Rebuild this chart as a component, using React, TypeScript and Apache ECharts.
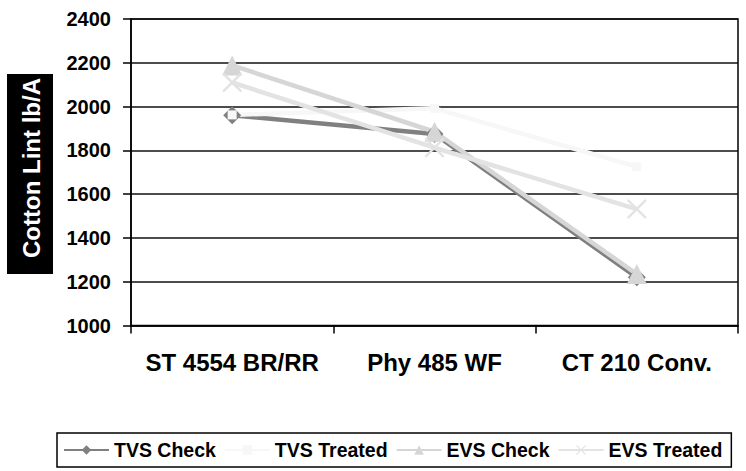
import React, { useEffect, useRef } from "react";
import * as echarts from "echarts";

const categories = ["ST 4554 BR/RR", "Phy 485 WF", "CT 210 Conv."];
const tvsCheck = [1960, 1875, 1220];
const tvsTreated = [1962, 1992, 1725];
const evsCheck = [2188, 1885, 1235];
const evsTreated = [2110, 1812, 1532];
const yTicks = { min: 1000, max: 2400, interval: 200 };
const yTitle = "Cotton Lint lb/A";

const FONT = "'Liberation Sans', Arial, sans-serif";
const X_SYMBOL =
  "path://M0,0L1.8,0L10,8.2L18.2,0L20,0L20,1.8L11.8,10L20,18.2L20,20L18.2,20L10,11.8L1.8,20L0,20L0,18.2L8.2,10L0,1.8Z";

export default function App() {
  const ref = useRef<HTMLDivElement>(null);
  useEffect(() => {
    if (!ref.current) return;
    const chart = echarts.init(ref.current, null, { renderer: "svg" });
    const mk = (name: string, data: number[], color: string, symbol: string, size: number) => ({
      name,
      type: "line",
      data,
      symbol,
      symbolSize: size,
      lineStyle: { color, width: 4.5 },
      itemStyle: { color },
      emphasis: { disabled: true },
    });
    chart.setOption({
      animation: false,
      grid: {
        left: 131,
        right: 8,
        top: 19,
        bottom: 471 - 325.5,
        show: true,
        borderColor: "#000",
        borderWidth: 1.5,
        backgroundColor: "transparent",
      },
      xAxis: {
        type: "category",
        data: categories,
        boundaryGap: true,
        axisLine: { lineStyle: { color: "#000", width: 1.5 } },
        axisTick: { show: true, length: 8, lineStyle: { color: "#000", width: 1.5 } },
        axisLabel: {
          color: "#000",
          fontWeight: "bold",
          fontSize: 24,
          fontFamily: FONT,
          margin: 25,
          interval: 0,
        },
        splitLine: { show: false },
      },
      yAxis: {
        type: "value",
        min: yTicks.min,
        max: yTicks.max,
        interval: yTicks.interval,
        axisLine: { show: true, lineStyle: { color: "#000", width: 1.5 } },
        axisTick: { show: true, length: 8, lineStyle: { color: "#000", width: 1.5 } },
        axisLabel: {
          color: "#000",
          fontWeight: "bold",
          fontSize: 20,
          fontFamily: FONT,
          margin: 20,
          formatter: (v: number) => String(v),
        },
        splitLine: { show: true, lineStyle: { color: "#111", width: 1.5 } },
      },
      legend: {
        left: 57,
        top: 433,
        orient: "horizontal",
        padding: [7, 9, 7, 6],
        itemGap: 8,
        itemWidth: 45,
        itemHeight: 12,
        borderColor: "#000",
        borderWidth: 1.5,
        borderRadius: 0,
        textStyle: { color: "#000", fontWeight: "bold", fontSize: 19.5, fontFamily: FONT },
        data: ["TVS Check", "TVS Treated", "EVS Check", "EVS Treated"],
      },
      graphic: [
        {
          type: "rect",
          shape: { x: 7, y: 74, width: 46, height: 200 },
          style: { fill: "#000" },
          silent: true,
        },
        {
          type: "text",
          x: 31,
          y: 168,
          rotation: Math.PI / 2,
          style: {
            text: yTitle,
            fill: "#fff",
            font: `bold 24px ${FONT}`,
            align: "center",
            verticalAlign: "middle",
          },
          silent: true,
        },
      ],
      series: [
        mk("TVS Check", tvsCheck, "#808080", "diamond", 18),
        mk("TVS Treated", tvsTreated, "#f7f7f7", "rect", 9),
        mk("EVS Check", evsCheck, "#d6d6d6", "triangle", 20),
        mk("EVS Treated", evsTreated, "#e3e3e3", X_SYMBOL, 19),
      ],
    });
    return () => chart.dispose();
  }, []);
  return (
    <div
      ref={ref}
      style={{ position: "absolute", left: 0, top: 0, width: 746, height: 471, background: "#fff" }}
    />
  );
}
